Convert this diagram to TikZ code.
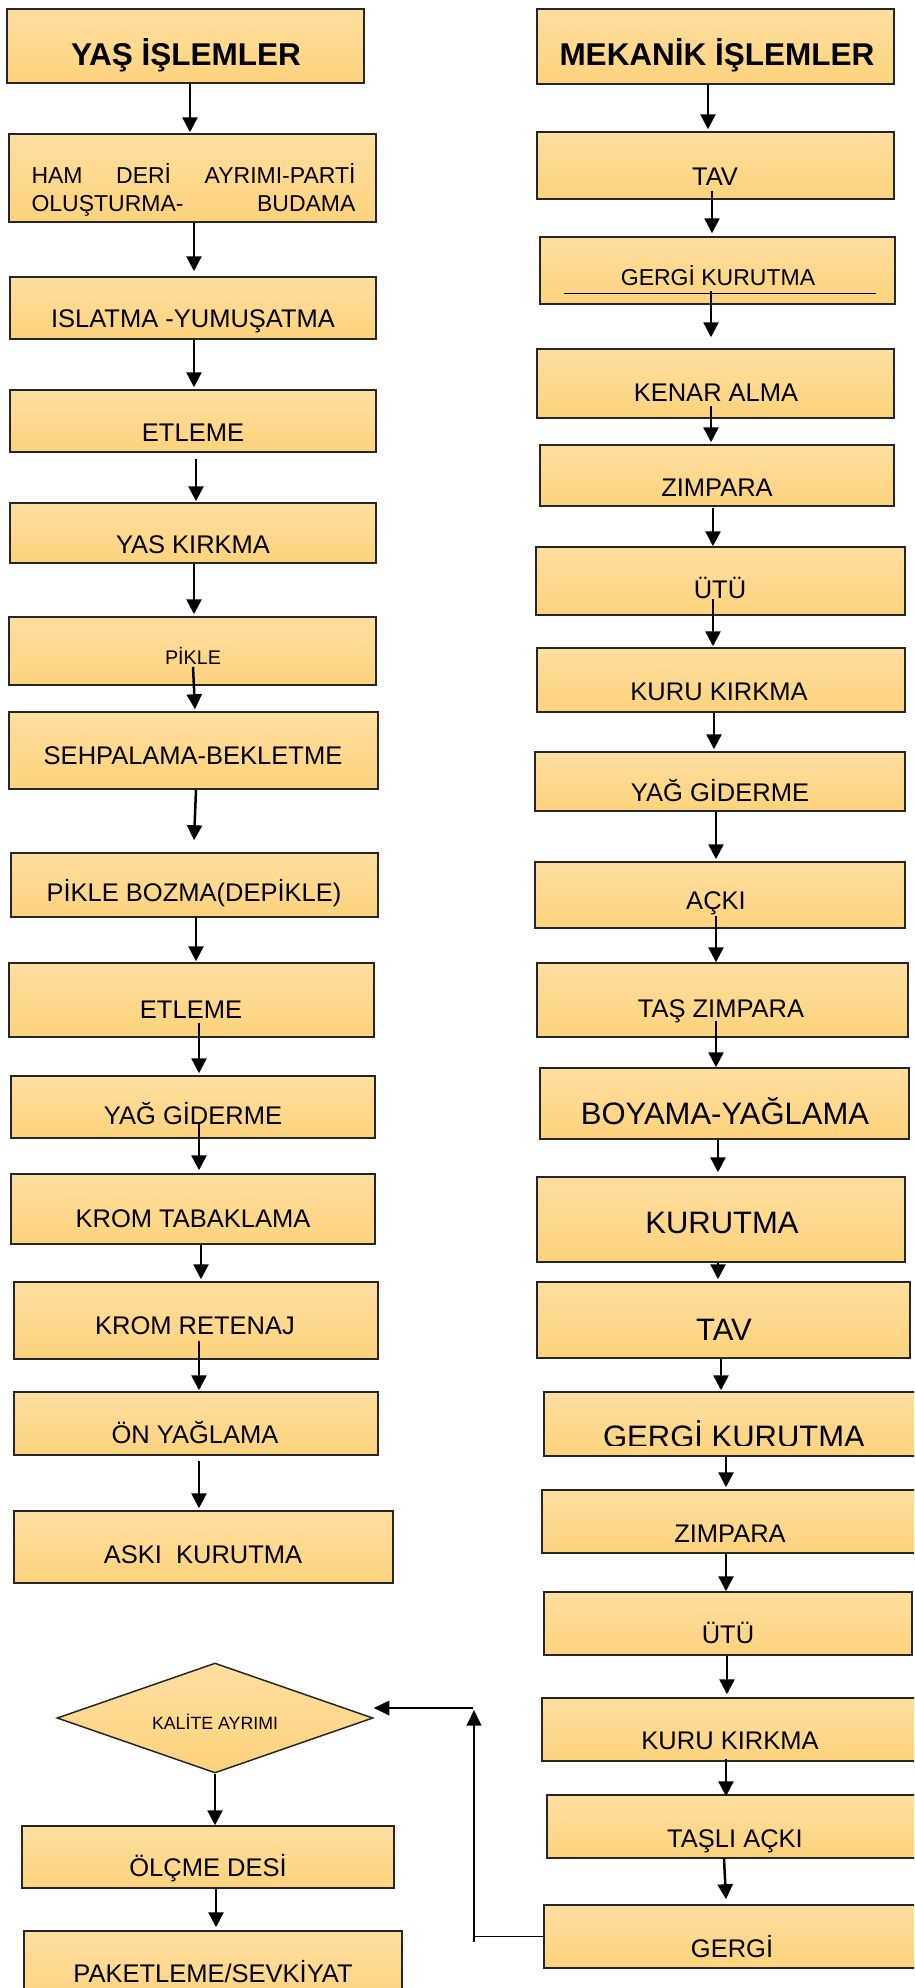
\documentclass[tikz,border=0pt]{standalone}
\usepackage{fontspec}
\setmainfont{Liberation Sans}
\usetikzlibrary{arrows.meta,shapes.geometric,fit,calc}
\definecolor{boxtop}{RGB}{254,222,160}
\definecolor{boxbot}{RGB}{253,211,124}
\newcommand\flw[6]{\draw[arr] ($(#1.south -| #3,0)+(0,#4)$) -- ($(#2.north -| #5,0)+(0,#6)$);}
\begin{document}
\begin{tikzpicture}[x=0.4pt,y=-0.4pt,
  box/.style={rectangle, draw=black!85, line width=0.6pt, top color=boxtop, bottom color=boxbot, inner sep=0pt},
  dia/.style={diamond, draw=black!85, line width=0.6pt, top color=boxtop, bottom color=boxbot, inner sep=0pt},
  lbl/.style={inner sep=0pt, anchor=base, font=\fontsize{10.2}{12}\selectfont},
  big/.style={lbl, font=\fontsize{12.4}{14}\selectfont},
  ttl/.style={lbl, font=\fontsize{12.6}{15}\selectfont\bfseries},
  arr/.style={line width=1pt, -{Triangle[length=6pt,width=6pt]}},
  tip/.style={-{Triangle[length=6.2pt,width=5.8pt]}}
]
\useasboundingbox (0,0) rectangle (914,1988);
\clip (0,0) rectangle (914,1988);
% ---------- left column boxes
\node[box, fit={(7,9)(364,83)}] (L1) {};
\node[box, fit={(9,134)(376,222)}] (L2) {};
\node[box, fit={(10,277)(376,339)}] (L3) {};
\node[box, fit={(10,390)(376,452)}] (L4) {};
\node[box, fit={(10,503)(376,563)}] (L5) {};
\node[box, fit={(9,617)(376,685)}] (L6) {};
\node[box, fit={(9,712)(378,789)}] (L7) {};
\node[box, fit={(11,853)(378,917)}] (L8) {};
\node[box, fit={(9,963)(374,1037)}] (L9) {};
\node[box, fit={(11,1076)(375,1138)}] (L10) {};
\node[box, fit={(11,1174)(375,1244)}] (L11) {};
\node[box, fit={(14,1282)(378,1359)}] (L12) {};
\node[box, fit={(14,1392)(378,1455)}] (L13) {};
\node[box, fit={(14,1511)(393,1583)}] (L14) {};
\node[dia, minimum width=126.4pt, minimum height=44pt] (D) at (215,1718) {};
\node[box, fit={(22,1826)(394,1888)}] (L15) {};
\node[box, fit={(24,1931)(402,2010)}] (L16) {};
% ---------- right column boxes
\node[box, fit={(537,9)(894,84)}] (R1) {};
\node[box, fit={(537,132)(894,199)}] (R2) {};
\node[box, fit={(540,237)(895,304)}] (R3) {};
\node[box, fit={(537,349)(894,418)}] (R4) {};
\node[box, fit={(540,445)(894,506)}] (R5) {};
\node[box, fit={(536,547)(905,615)}] (R6) {};
\node[box, fit={(537,648)(905,712)}] (R7) {};
\node[box, fit={(535,752)(905,811)}] (R8) {};
\node[box, fit={(535,862)(905,928)}] (R9) {};
\node[box, fit={(537,963)(908,1037)}] (R10) {};
\node[box, fit={(540,1068)(909,1139)}] (R11) {};
\node[box, fit={(537,1177)(905,1262)}] (R12) {};
\node[box, fit={(537,1282)(910,1358)}] (R13) {};
\node[box, fit={(544,1392)(920,1456)}] (R14) {};
\node[box, fit={(542,1490)(920,1553)}] (R15) {};
\node[box, fit={(544,1592)(912,1655)}] (R16) {};
\node[box, fit={(542,1698)(920,1761)}] (R17) {};
\node[box, fit={(547,1795)(920,1858)}] (R18) {};
\node[box, fit={(544,1905)(920,1968)}] (R19) {};
% ---------- left texts
\node[ttl] (L1t) at (186,65) {YAŞ İŞLEMLER};
\node[lbl, anchor=base west, font=\fontsize{9.2}{11}\selectfont] (L2a) at (31,183) {\makebox[129.6pt][s]{HAM DERİ AYRIMI-PARTİ}};
\node[lbl, anchor=base west, font=\fontsize{9.2}{11}\selectfont] (L2b) at (31,211) {\makebox[129.6pt][s]{OLUŞTURMA- BUDAMA}};
\node[lbl] (L3t) at (193,327) {ISLATMA -YUMUŞATMA};
\node[lbl] (L4t) at (193,441) {ETLEME};
\node[lbl] (L5t) at (193,553) {YAS KIRKMA};
\node[lbl, font=\fontsize{7.9}{9}\selectfont] (L6t) at (193,664) {PİKLE};
\node[lbl] (L7t) at (193,764) {SEHPALAMA-BEKLETME};
\node[lbl] (L8t) at (194,901) {PİKLE BOZMA(DEPİKLE)};
\node[lbl] (L9t) at (191,1018) {ETLEME};
\node[lbl] (L10t) at (193,1124) {YAĞ GİDERME};
\node[lbl] (L11t) at (193,1227) {KROM TABAKLAMA};
\node[lbl] (L12t) at (195,1334) {KROM RETENAJ};
\node[lbl] (L13t) at (195,1443) {ÖN YAĞLAMA};
\node[lbl] (L14t) at (203,1563) {ASKI\ \ KURUTMA};
\node[lbl, font=\fontsize{7.1}{9}\selectfont] (Dt) at (215,1729) {KALİTE AYRIMI};
\node[lbl] (L15t) at (208,1876) {ÖLÇME DESİ};
\node[lbl] (L16t) at (213,1982) {PAKETLEME/SEVKİYAT};
% ---------- right texts
\node[ttl] (R1t) at (717,65) {MEKANİK İŞLEMLER};
\node[lbl] (R2t) at (715,185) {TAV};
\node[lbl, font=\fontsize{9.2}{11}\selectfont] (R3t) at (718,285) {GERGİ KURUTMA};
\node[lbl] (R4t) at (716,401) {KENAR ALMA};
\node[lbl] (R5t) at (717,496) {ZIMPARA};
\node[lbl] (R6t) at (720,598) {ÜTÜ};
\node[lbl] (R7t) at (719,700) {KURU KIRKMA};
\node[lbl] (R8t) at (720,801) {YAĞ GİDERME};
\node[lbl] (R9t) at (716,909) {AÇKI};
\node[lbl] (R10t) at (721,1017) {TAŞ ZIMPARA};
\node[big] (R11t) at (725,1124) {BOYAMA-YAĞLAMA};
\node[big] (R12t) at (722,1233) {KURUTMA};
\node[big] (R13t) at (724,1340) {TAV};
\begin{scope}
\clip (537,1392) rectangle (920,1445);
\node[big] (R14t) at (734,1447) {GERGİ KURUTMA};
\end{scope}
\node[lbl] (R15t) at (730,1542) {ZIMPARA};
\node[lbl] (R16t) at (728,1643) {ÜTÜ};
\node[lbl] (R17t) at (730,1749) {KURU KIRKMA};
\node[lbl] (R18t) at (735,1847) {TAŞLI AÇKI};
\node[lbl] (R19t) at (732,1957) {GERGİ};
% underline in GERGİ KURUTMA
\draw[line width=0.45pt] ($(R3.south west)+(25,-11)$) -- ($(R3.south east)+(-20,-11)$);
% ---------- left arrows
\flw{L1}{L2}{190}{0}{190}{-1}
\flw{L2}{L3}{194}{0}{194}{-5}
\flw{L3}{L4}{194}{0}{194}{-2}
\flw{L4}{L5}{196}{6}{196}{-1}
\flw{L5}{L6}{194}{0}{194}{-2}
\flw{L6}{L7}{193}{-19}{195}{-2}
\flw{L7}{L8}{196}{0}{194}{-12}
\flw{L8}{L9}{196}{0}{196}{-1}
\flw{L9}{L10}{199}{-15}{199}{-2}
\flw{L10}{L11}{199}{-15}{199}{-3}
\flw{L11}{L12}{201}{0}{201}{-2}
\flw{L12}{L13}{199}{-19}{199}{-1}
\flw{L13}{L14}{199}{5}{199}{-2}
\draw[arr] (D.south) -- (L15.north -| D.south);
\flw{L15}{L16}{216}{0}{216}{-3}
% ---------- right arrows
\flw{R1}{R2}{708}{0}{708}{-2}
\flw{R2}{R3}{712}{-9}{712}{-3}
\flw{R3}{R4}{711}{-14}{711}{-11}
\flw{R4}{R5}{711}{-13}{711}{-2}
\flw{R5}{R6}{713}{1}{713}{0}
\flw{R6}{R7}{713}{-17}{713}{-1}
\flw{R7}{R8}{714}{0}{714}{-2}
\flw{R8}{R9}{716}{0}{716}{-2}
\flw{R9}{R10}{716}{-13}{716}{0}
\flw{R10}{R11}{716}{-17}{716}{0}
\flw{R11}{R12}{718}{0}{718}{-4}
\flw{R12}{R13}{718}{0}{718}{-2}
\flw{R13}{R14}{721}{0}{721}{-1}
\flw{R14}{R15}{726}{0}{726}{-2}
\flw{R15}{R16}{726}{0}{726}{0}
\flw{R16}{R17}{727}{0}{727}{-3}
\flw{R17}{R18}{726}{-3}{726}{2}
\flw{R18}{R19}{724}{0}{726}{-5}
% ---------- feedback
\draw[line width=0.45pt] (R19.west) -- (R19.west -| 474,0);
\draw[line width=0.8pt, tip] ($(R19.west -| 474,0)+(0,5)$) -- ($(D.east -| 474,0)+(0,-8)$);
\draw[line width=0.7pt, tip] ($(D.east -| 473,0)+(0,-10)$) -- ($(D.east)+(0,-10)$);
\end{tikzpicture}
\end{document}
